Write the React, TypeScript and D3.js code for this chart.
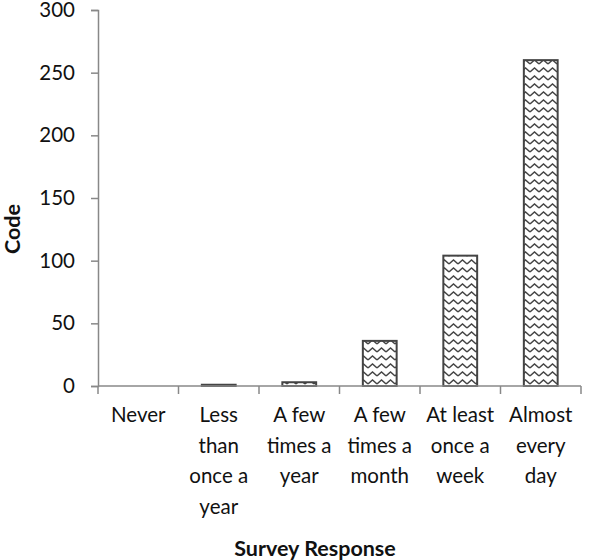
import React, { useEffect, useRef } from 'react';
import * as d3 from 'd3';

const categories = [
  ['Never'],
  ['Less', 'than', 'once a', 'year'],
  ['A few', 'times a', 'year'],
  ['A few', 'times a', 'month'],
  ['At least', 'once a', 'week'],
  ['Almost', 'every', 'day'],
];
const values = [0, 1, 3, 36, 104, 260];
const yTicks = [0, 50, 100, 150, 200, 250, 300];

const App = () => {
  const svgRef = useRef<SVGSVGElement>(null);

  useEffect(() => {
    const margin = { top: 10, right: 19, bottom: 174, left: 98 };
    const width = 600 - margin.left - margin.right;
    const height = 560 - margin.top - margin.bottom;
    const font = 'Lato, "Open Sans", sans-serif';

    const root = d3.select(svgRef.current);
    root.selectAll('*').remove();
    root.attr('width', 600).attr('height', 560);

    const pat = root.append('defs').append('pattern')
      .attr('id', 'zigzag')
      .attr('patternUnits', 'userSpaceOnUse')
      .attr('width', 9)
      .attr('height', 8);
    pat.append('rect').attr('width', 9).attr('height', 8).attr('fill', '#fff');
    pat.append('path')
      .attr('d', 'M0,6 L4.5,2 L9,6')
      .attr('fill', 'none')
      .attr('stroke', '#444')
      .attr('stroke-width', 1.4);

    const svg = root.append('g')
      .attr('transform', `translate(${margin.left},${margin.top})`);

    const idx = categories.map((_, i) => String(i));
    const x = d3.scaleBand()
      .domain(idx)
      .range([0, width])
      .paddingInner(0.58)
      .paddingOuter(0.29);

    const y = d3.scaleLinear().domain([0, 300]).range([height, 0]);

    // bars
    svg.selectAll('.bar')
      .data(values)
      .enter().append('rect')
      .attr('class', 'bar')
      .attr('x', (d, i) => x(String(i))!)
      .attr('y', d => y(d))
      .attr('width', x.bandwidth())
      .attr('height', d => height - y(d))
      .attr('fill', 'url(#zigzag)')
      .attr('stroke', d => (d > 0 ? '#444' : 'none'))
      .attr('stroke-width', 2);

    // y axis
    const yAxis = svg.append('g')
      .call(d3.axisLeft(y).tickValues(yTicks).tickSize(7).tickPadding(16));
    yAxis.select('.domain').attr('stroke', '#888').attr('stroke-width', 1.5);
    yAxis.selectAll('.tick line').attr('stroke', '#888').attr('stroke-width', 1.5);
    yAxis.selectAll('.tick text')
      .attr('font-family', font)
      .attr('font-size', 20.5)
      .attr('fill', '#111');

    // x axis line + ticks at band boundaries
    const step = x.step();
    const bounds = d3.range(categories.length + 1).map(i => i * step);
    const xg = svg.append('g').attr('transform', `translate(0,${height})`);
    xg.append('line')
      .attr('x1', 0).attr('x2', width)
      .attr('stroke', '#888').attr('stroke-width', 1.5);
    xg.selectAll('.xt')
      .data(bounds)
      .enter().append('line')
      .attr('x1', d => d).attr('x2', d => d)
      .attr('y1', 0).attr('y2', 8)
      .attr('stroke', '#888').attr('stroke-width', 1.5);

    const labels = xg.selectAll('.xl')
      .data(categories)
      .enter().append('text')
      .attr('x', (d, i) => x(String(i))! + x.bandwidth() / 2)
      .attr('y', 36)
      .attr('text-anchor', 'middle')
      .attr('font-family', font)
      .attr('font-size', 20.5)
      .attr('fill', '#111');
    labels.selectAll('tspan')
      .data(d => d)
      .enter().append('tspan')
      .attr('x', function () { return (this.parentNode as SVGTextElement).getAttribute('x'); })
      .attr('dy', (d, i) => (i === 0 ? 0 : 30.5))
      .text(d => d);

    // axis titles
    root.append('text')
      .attr('x', 315)
      .attr('y', 556)
      .attr('text-anchor', 'middle')
      .attr('font-family', font)
      .attr('font-weight', 'bold')
      .attr('font-size', 21.5)
      .attr('fill', '#111')
      .text('Survey Response');

    root.append('text')
      .attr('transform', `translate(20,229) rotate(-90)`)
      .attr('text-anchor', 'middle')
      .attr('font-family', font)
      .attr('font-weight', 'bold')
      .attr('font-size', 21.5)
      .attr('fill', '#111')
      .text('Code');
  }, []);

  return <svg ref={svgRef} style={{ position: 'absolute', left: 0, top: 0 }}></svg>;
};

export default App;
